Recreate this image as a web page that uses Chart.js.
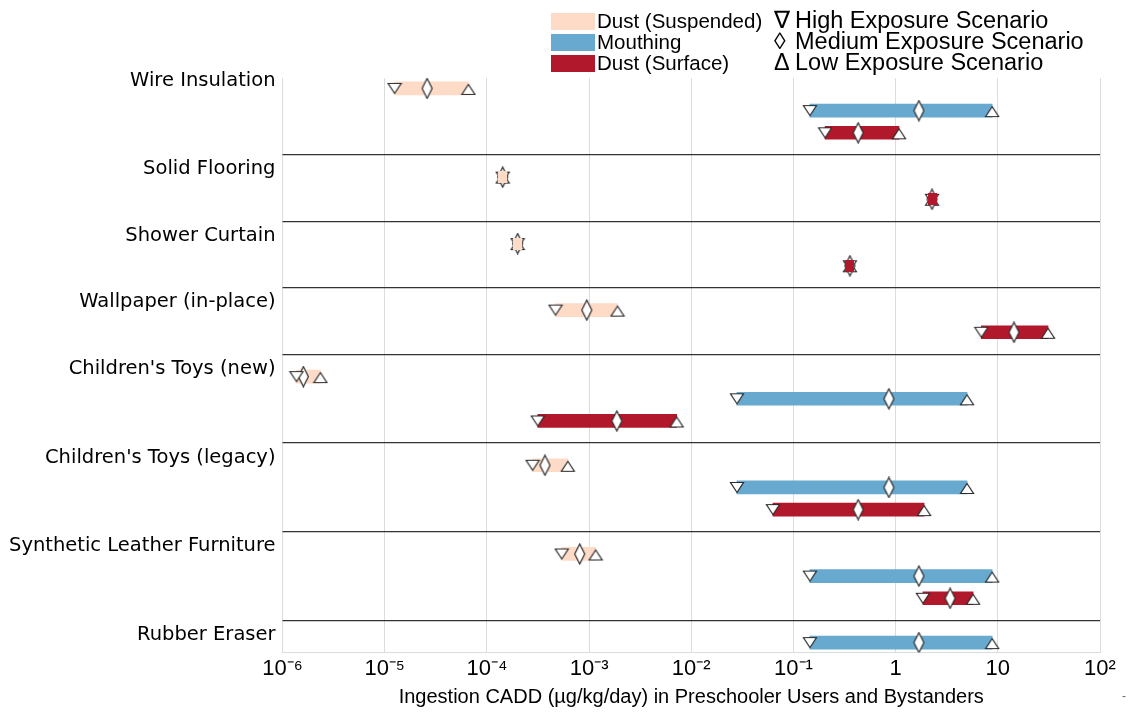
<!DOCTYPE html>
<html>
<head>
<meta charset="utf-8">
<script src="https://cdn.jsdelivr.net/npm/chart.js@4.4.1/dist/chart.umd.min.js"></script>
<style>
  html, body { margin: 0; padding: 0; background: #fff; }
  #wrap { width: 1130px; height: 712px; position: relative; }
</style>
</head>
<body>
<div id="wrap"><canvas id="chart"></canvas></div>
<script>
// products, top to bottom
const products = [
    'Wire Insulation',
    'Solid Flooring',
    'Shower Curtain',
    'Wallpaper (in-place)',
    "Children's Toys (new)",
    "Children's Toys (legacy)",
    'Synthetic Leather Furniture',
    'Rubber Eraser'
];

const routes = ['Dust (Suspended)', 'Mouthing', 'Dust (Surface)'];
const routeColors = ['#fddbc7', '#67a9cf', '#b2182b'];

const scenarios = ['High Exposure Scenario', 'Medium Exposure Scenario', 'Low Exposure Scenario'];
const scenarioSymbols = ['\u2207', '\u25CA', '\u0394'];

// ug/kg/day, null = route not assessed
const suspHigh = [1.25e-5, 1.43e-4, 2.0e-4, 4.7e-4, 1.37e-6, 2.8e-4, 5.4e-4, null];
const suspMed  = [2.6e-5, 1.43e-4, 2.0e-4, 9.5e-4, 1.6e-6, 3.7e-4, 8.1e-4, null];
const suspLow  = [6.6e-5, 1.43e-4, 2.0e-4, 1.9e-3, 2.35e-6, 6.2e-4, 1.16e-3, null];

const mouthHigh = [0.145, null, null, null, 0.028, 0.028, 0.145, 0.145];
const mouthMed  = [1.69, null, null, null, 0.86, 0.86, 1.69, 1.69];
const mouthLow  = [8.8, null, null, null, 5.0, 5.0, 8.8, 8.8];

const surfHigh = [0.204, 2.27, 0.357, 6.9, 3.15e-4, 0.063, 1.85, null];
const surfMed  = [0.43, 2.27, 0.357, 14.4, 1.87e-3, 0.43, 3.41, null];
const surfLow  = [1.08, 2.27, 0.357, 31, 7.2e-3, 1.9, 5.73, null];

const xTickValues = [1e-6, 1e-5, 1e-4, 1e-3, 1e-2, 1e-1, 1, 10, 100];
const xTickLabels = ['10\u207B\u2076', '10\u207B\u2075', '10\u207B\u2074', '10\u207B\u00B3', '10\u207B\u00B2', '10\u207B\u00B9', '1', '10', '10\u00B2'];

const xTitle = 'Ingestion CADD (\u00B5g/kg/day) in Preschooler Users and Bystanders';

// build row slots: one slot per route present, one slot for the separator
const byRoute = [
    [suspHigh, suspMed, suspLow],
    [mouthHigh, mouthMed, mouthLow],
    [surfHigh, surfMed, surfLow]
];
const rows = [];
const labelSlots = [];
const sepSlots = [];
let slot = 0;
products.forEach((p, i) => {
    labelSlots.push(slot - 0.35);
    byRoute.forEach((vals, r) => {
        if (vals[0][i] == null) return;
        rows.push({ slot: slot, route: r, high: vals[0][i], med: vals[1][i], low: vals[2][i] });
        slot++;
    });
    if (i < products.length - 1) {
        sepSlots.push(slot);
        slot++;
    }
});

// marker images
function marker(kind) {
    const c = document.createElement('canvas');
    const g = c.getContext('2d');
    g.beginPath();
    if (kind === 'down') {
        c.width = 16; c.height = 13;
        g.moveTo(1.5, 1.5); g.lineTo(14.5, 1.5); g.lineTo(8, 11.5);
    } else if (kind === 'up') {
        c.width = 16; c.height = 15;
        g.moveTo(8, 3.5); g.lineTo(14.5, 13.5); g.lineTo(1.5, 13.5);
    } else {
        c.width = 13; c.height = 22;
        g.moveTo(6.5, 1); g.lineTo(11.5, 11); g.lineTo(6.5, 21); g.lineTo(1.5, 11);
    }
    g.closePath();
    g.fillStyle = '#fff';
    g.fill();
    g.strokeStyle = '#2b2b2b';
    g.lineWidth = 1.2;
    g.stroke();
    return c;
}
function blob(color) {
    const c = document.createElement('canvas');
    c.width = 9; c.height = 12;
    const g = c.getContext('2d');
    g.fillStyle = color;
    g.fillRect(0, 0, 9, 12);
    return c;
}
const markerImgs = [marker('down'), marker('diamond'), marker('up')];
const blobImgs = routeColors.map(blob);

const barSets = routes.map((name, r) => ({
    type: 'bar',
    label: name,
    indexAxis: 'y',
    grouped: false,
    order: 3,
    data: rows.filter(d => d.route === r).map(d => ({ y: d.slot, x: [d.high, d.low] })),
    backgroundColor: routeColors[r],
    borderWidth: 0,
    maxBarThickness: 13,
    categoryPercentage: 1,
    barPercentage: 1
}));

const keys = ['high', 'med', 'low'];
const markerSets = scenarios.map((name, k) => ({
    type: 'scatter',
    label: name,
    order: 2,
    data: rows.map(d => ({ x: d[keys[k]], y: d.slot })),
    pointStyle: markerImgs[k],
    pointRadius: 5
}));

const flatRows = rows.filter(d => d.high === d.low);
const blobSet = {
    type: 'scatter',
    label: 'point',
    order: 1,
    data: flatRows.map(d => ({ x: d.high, y: d.slot })),
    pointStyle: ctx => blobImgs[flatRows[ctx.dataIndex] ? flatRows[ctx.dataIndex].route : 0],
    pointRadius: 5
};

const legendPlugin = {
    id: 'routeLegend',
    afterDraw(chart) {
        const c = chart.ctx;
        c.save();
        c.textBaseline = 'middle';
        c.textAlign = 'left';
        const rowY = [21, 42, 63];
        routes.forEach((name, i) => {
            c.fillStyle = routeColors[i];
            c.fillRect(551, rowY[i] - 8, 44, 17);
            c.fillStyle = '#000';
            c.font = '20.5px "Liberation Sans", Arial, sans-serif';
            c.fillText(name, 597, rowY[i] + 1);
        });
        scenarios.forEach((name, i) => {
            c.font = '23.5px "Liberation Sans", Arial, sans-serif';
            c.fillText(scenarioSymbols[i], 774, rowY[i] + 1);
            c.fillText(name, 795, rowY[i] + 1);
        });
        c.font = '12px "Liberation Sans", Arial, sans-serif';
        c.fillStyle = '#666';
        c.fillText('-', 1122, 697);
        c.restore();
    }
};

new Chart(document.getElementById('chart'), {
    data: { datasets: [...barSets, ...markerSets, blobSet] },
    options: {
        responsive: true,
        maintainAspectRatio: false,
        animation: false,
        layout: { padding: { left: 10, right: 30, top: 78, bottom: 0 } },
        plugins: {
            legend: { display: false },
            tooltip: { enabled: false }
        },
        scales: {
            x: {
                type: 'logarithmic',
                min: 1e-6,
                max: 100,
                afterBuildTicks: s => { s.ticks = xTickValues.map(v => ({ value: v })); },
                ticks: {
                    autoSkip: false,
                    maxRotation: 0,
                    padding: 3,
                    color: '#000',
                    font: { family: '"Liberation Sans", Arial, sans-serif', size: 22 },
                    callback: (v) => xTickLabels[xTickValues.indexOf(v)] || ''
                },
                grid: { color: '#dcdcdc', lineWidth: 1, drawTicks: false },
                border: { color: '#dcdcdc' },
                title: {
                    display: true,
                    text: xTitle,
                    color: '#000',
                    padding: { top: 0, bottom: 3 },
                    font: { family: '"Liberation Sans", Arial, sans-serif', size: 20 }
                }
            },
            y: {
                type: 'linear',
                position: 'right',
                reverse: true,
                offset: false,
                min: -0.47,
                max: 25.45,
                afterBuildTicks: s => { s.ticks = sepSlots.map(v => ({ value: v })); },
                ticks: { display: false },
                grid: { color: '#333', lineWidth: 1.3, drawTicks: false, offset: false },
                border: { display: false }
            },
            yLab: {
                type: 'linear',
                position: 'left',
                reverse: true,
                min: -0.47,
                max: 25.45,
                afterBuildTicks: s => { s.ticks = labelSlots.map(v => ({ value: v })); },
                ticks: {
                    autoSkip: false,
                    padding: 7,
                    color: '#000',
                    font: { family: '"DejaVu Sans", Verdana, sans-serif', size: 19.5 },
                    callback: (v, i) => products[i]
                },
                grid: { display: false, drawTicks: false },
                border: { display: false }
            }
        }
    },
    plugins: [legendPlugin]
});
</script>
</body>
</html>
